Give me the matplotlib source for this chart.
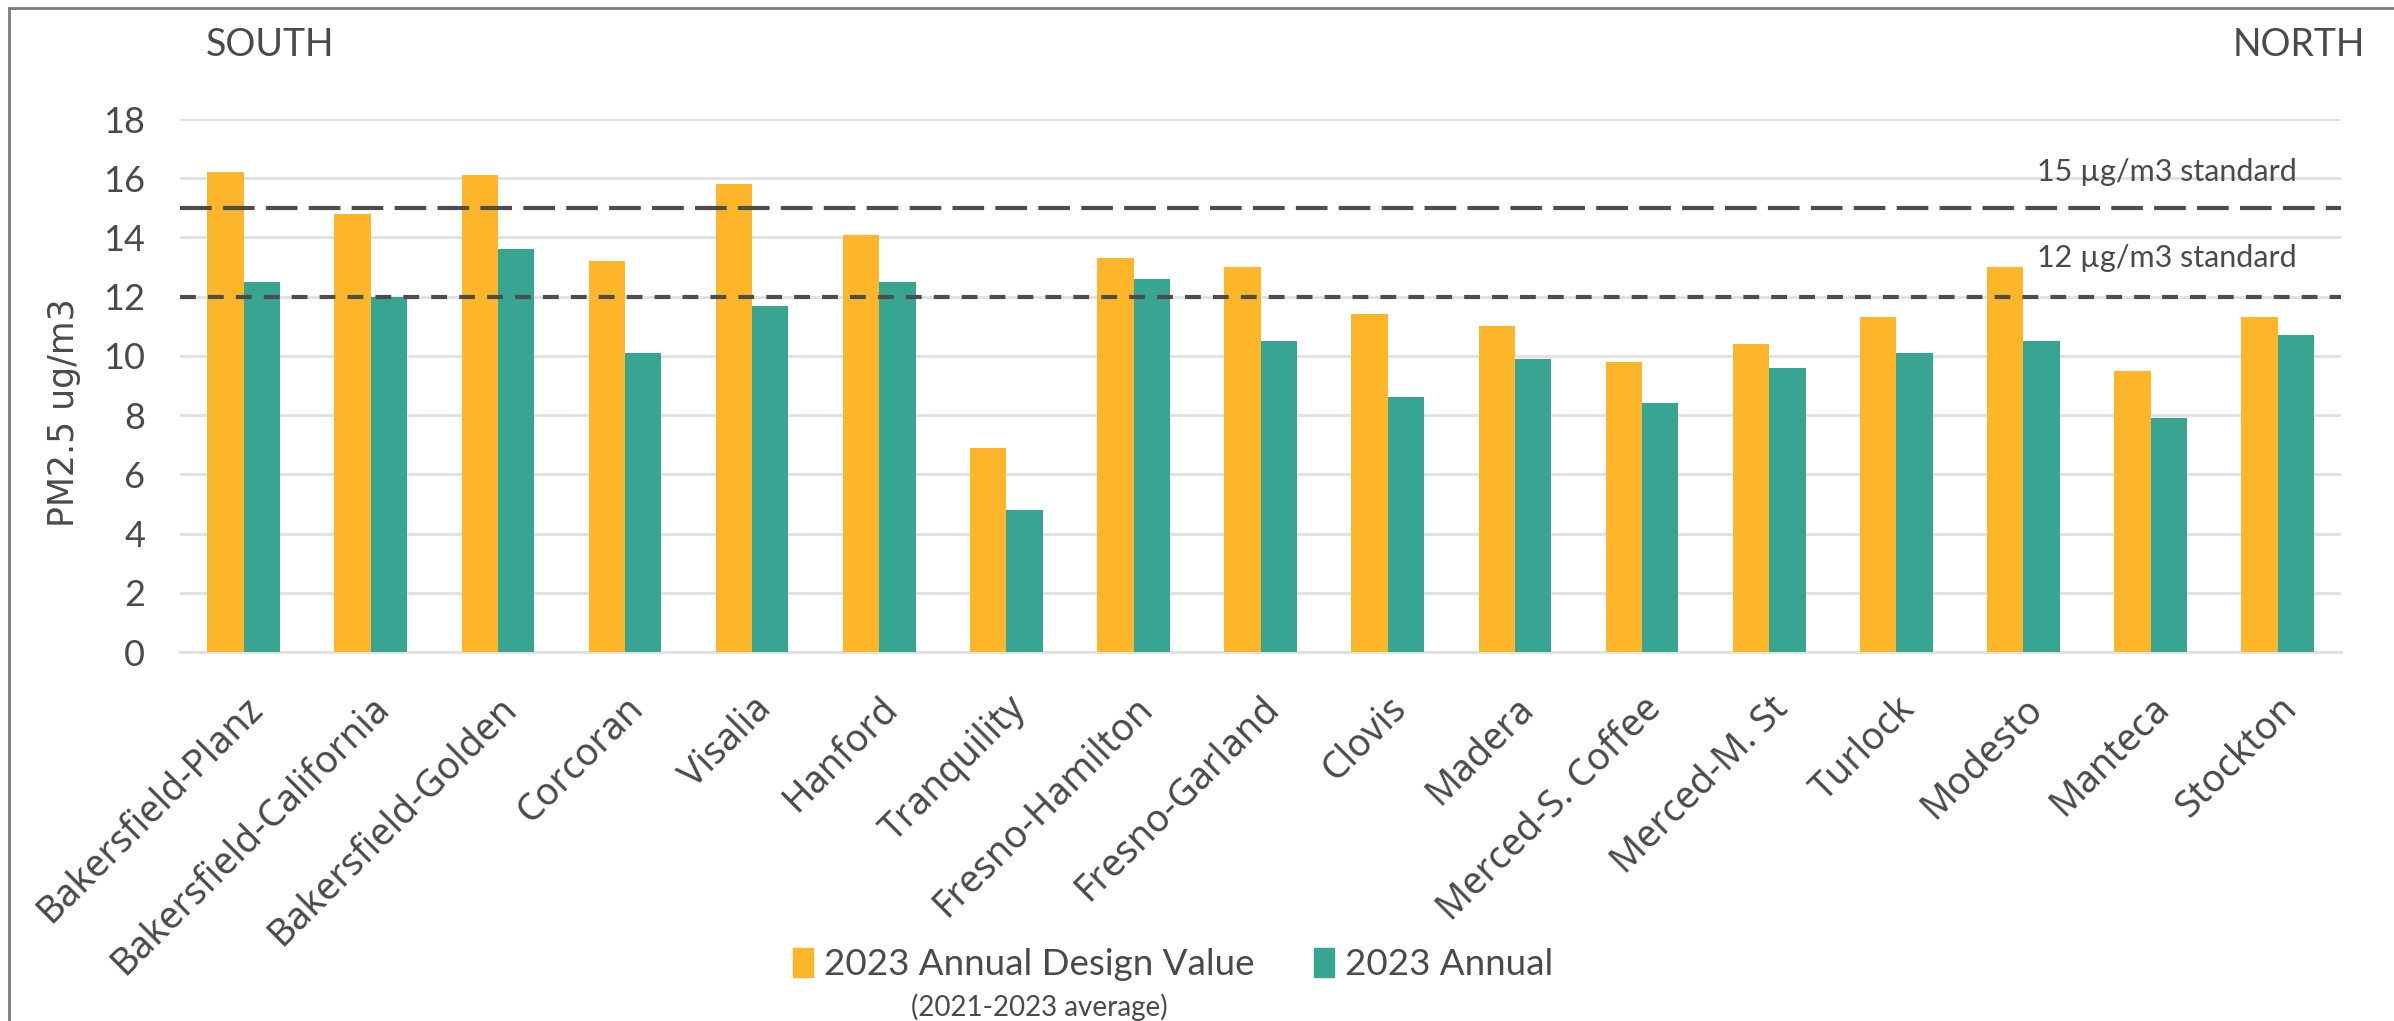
import numpy as np
import matplotlib.pyplot as plt
from matplotlib.patches import Rectangle, Patch

sites = ['Bakersfield-Planz', 'Bakersfield-California', 'Bakersfield-Golden', 'Corcoran',
         'Visalia', 'Hanford', 'Tranquility', 'Fresno-Hamilton', 'Fresno-Garland', 'Clovis',
         'Madera', 'Merced-S. Coffee', 'Merced-M. St', 'Turlock', 'Modesto', 'Manteca', 'Stockton']
design_value = [16.2, 14.8, 16.1, 13.2, 15.8, 14.1, 6.9, 13.3, 13.0, 11.4,
                11.0, 9.8, 10.4, 11.3, 13.0, 9.5, 11.3]
annual_2023 = [12.5, 12.0, 13.6, 10.1, 11.7, 12.5, 4.8, 12.6, 10.5, 8.6,
               9.9, 8.4, 9.6, 10.1, 10.5, 7.9, 10.7]
standards = [15, 12]
standard_labels = ['15 µg/m3 standard', '12 µg/m3 standard']

orange = '#FDB62A'
teal = '#38A593'
txt = '#4a4a4a'
font = 'Lato'

fig = plt.figure(figsize=(23.94, 10.21), dpi=100)
ax = fig.add_axes([0.0752, 0.3614, 0.9028, 0.522])

x = np.arange(len(sites))
w = 0.286
ax.bar(x - w / 2, design_value, w, color=orange, label='2023 Annual Design Value', zorder=3)
ax.bar(x + w / 2, annual_2023, w, color=teal, label='2023 Annual', zorder=3)

# standards
ax.axhline(standards[0], color='#4d4d4d', lw=3, dashes=(7.6, 2.7), zorder=4)
ax.axhline(standards[1], color='#4d4d4d', lw=3, dashes=(3.8, 2.9), zorder=4)
ax.text(16.15, 16.2, standard_labels[0], ha='right', va='center',
        fontsize=22, color=txt, family=font)
ax.text(16.15, 13.3, standard_labels[1], ha='right', va='center',
        fontsize=22, color=txt, family=font)

ax.set_xlim(-0.5, len(sites) - 0.5)
ax.set_ylim(0, 18)
ax.set_yticks(range(0, 19, 2))
ax.grid(axis='y', color='#e0e0e0', lw=2, zorder=0)
for s in ['top', 'right', 'left']:
    ax.spines[s].set_visible(False)
ax.spines['bottom'].set_color('#e0e0e0')
ax.spines['bottom'].set_linewidth(2)
ax.tick_params(axis='y', length=0, pad=25)
ax.tick_params(axis='x', length=0, pad=27)
ax.set_xticks(x)
ax.set_xticklabels(sites, rotation=45, ha='right', rotation_mode='anchor',
                   fontsize=27, color=txt, family='Noto Sans')
for lab in ax.get_yticklabels():
    lab.set_fontsize(26)
    lab.set_color(txt)
    lab.set_family(font)
ax.set_ylabel('PM2.5 ug/m3', fontsize=25, color=txt, family='DejaVu Sans')
ax.yaxis.set_label_coords(-0.046, 0.45)

fig.text(0.086, 0.956, 'SOUTH', fontsize=27, color=txt, family=font, va='center')
fig.text(0.988, 0.956, 'NORTH', fontsize=27, color=txt, family=font, va='center', ha='right')

handles = [Patch(color=orange), Patch(color=teal)]
leg = fig.legend(handles, ['2023 Annual Design Value', '2023 Annual'], loc='center',
                 bbox_to_anchor=(0.49, 0.055), ncol=2, frameon=False,
                 handlelength=0.55, handleheight=0.8, handletextpad=0.3, columnspacing=1.6,
                 prop={'family': font, 'size': 26.5})
for t in leg.get_texts():
    t.set_color(txt)
fig.text(0.434, 0.014, '(2021-2023 average)', fontsize=20, color=txt, family=font,
         ha='center', va='center')

# outer frame
fig.patches.append(Rectangle((9 / 2394, -0.05), 1.1, 1.05 - 8 / 1021, transform=fig.transFigure,
                             fill=False, edgecolor='#7a7a7a', lw=2))

fig.savefig('out.png', dpi=100, facecolor='white')
